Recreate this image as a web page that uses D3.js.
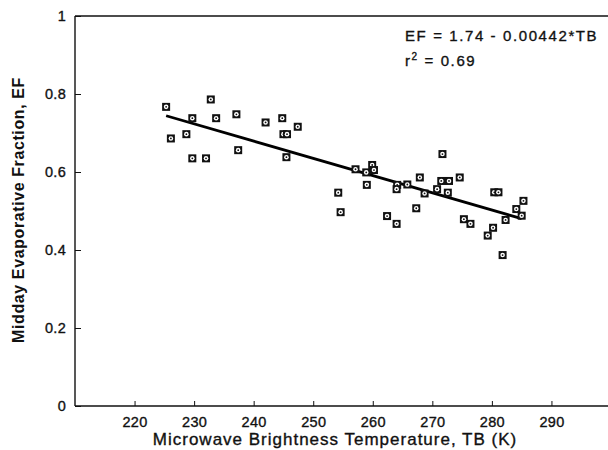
<!DOCTYPE html>
<html><head><meta charset="utf-8">
<script src="https://cdn.jsdelivr.net/npm/d3@7"></script>
<style>body{margin:0;background:#fff}svg{display:block}text{font-family:"Liberation Sans",Arial,Helvetica,sans-serif;fill:#111}</style>
</head><body>
<svg id="c" width="608" height="450"></svg>
<script>
const tbValues = [225.3,232.8,229.7,233.7,237.1,226.1,228.7,229.7,232.0,237.4,
  242.0,244.8,247.4,245.0,245.6,245.5,
  254.2,254.6,257.1,258.9,259.9,260.2,259.0,262.4,264.1,264.0,264.0,265.8,267.9,267.3,268.7,270.8,
  271.7,271.5,272.8,274.6,272.6,275.3,276.4,280.4,281.1,280.2,279.3,282.3,281.8,285.3,284.1,285.0];
const efValues = [0.767,0.786,0.738,0.738,0.748,0.686,0.697,0.635,0.635,0.656,
  0.727,0.738,0.716,0.697,0.697,0.638,
  0.547,0.497,0.607,0.599,0.618,0.605,0.567,0.487,0.567,0.556,0.467,0.568,0.586,0.507,0.545,0.556,
  0.646,0.577,0.577,0.586,0.547,0.479,0.467,0.548,0.548,0.457,0.437,0.477,0.387,0.526,0.505,0.488];
const xTicks = [220,230,240,250,260,270,280,290];
const yTicks = [0,0.2,0.4,0.6,0.8,1];
const fitIntercept = 1.74, fitSlope = -0.00442;
const fitRange = [225.3,285.0];

const svg = d3.select("#c");
const x = d3.scaleLinear().domain([210,300]).range([75,611]);
const y = d3.scaleLinear().domain([0,1]).range([406,16]);

const heavy = sel => sel.attr("stroke","#111").attr("stroke-width",0.35);

// frame
svg.append("line").attr("x1",75).attr("x2",608).attr("y1",y(1)).attr("y2",y(1)).attr("stroke","#111").attr("stroke-width",1.4);

const xa = svg.append("g").attr("transform",`translate(0,${y(0)})`)
  .call(d3.axisBottom(x).tickValues(xTicks).tickSize(-5).tickPadding(11).tickFormat(d3.format("d")));
xa.select(".domain").attr("d",`M75,0H608`).attr("stroke","#111").attr("stroke-width",1.4);
xa.selectAll("line").attr("stroke","#111");
xa.selectAll("text").attr("font-size",14.5).attr("letter-spacing",0.3).style("font-family","Liberation Sans, Arial, sans-serif").call(heavy);

const ya = svg.append("g").attr("transform",`translate(${x(210)},0)`)
  .call(d3.axisLeft(y).tickValues(yTicks).tickSize(-6).tickPadding(9).tickFormat(d=>d===0||d===1?String(d):d3.format(".1f")(d)));
ya.select(".domain").attr("d",`M0,${y(1)}V${y(0)}`).attr("stroke","#111").attr("stroke-width",1.4);
ya.selectAll("line").attr("stroke","#111");
ya.selectAll("text").attr("font-size",14.5).attr("letter-spacing",0.3).style("font-family","Liberation Sans, Arial, sans-serif").call(heavy);

// regression line
svg.append("line")
  .attr("x1",x(fitRange[0])).attr("y1",y(fitIntercept+fitSlope*fitRange[0]))
  .attr("x2",x(fitRange[1])).attr("y2",y(fitIntercept+fitSlope*fitRange[1]))
  .attr("stroke","#000").attr("stroke-width",2.8);

// points
const pts = svg.append("g").selectAll("g").data(tbValues.map((t,i)=>[t,efValues[i]])).join("g")
  .attr("transform",d=>`translate(${x(d[0])},${y(d[1])})`);
pts.append("rect").attr("x",-4).attr("y",-4).attr("width",8).attr("height",8).attr("fill","#111");
pts.append("circle").attr("r",2.3).attr("fill","#fff");
pts.append("circle").attr("r",0.9).attr("fill","#111");

// annotation
svg.append("text").attr("x",405).attr("y",41).attr("font-size",15).attr("letter-spacing",1.6).call(heavy)
  .text("EF = 1.74 - 0.00442*TB");
const t2 = svg.append("text").attr("x",405).attr("y",66).attr("font-size",15).attr("letter-spacing",1.6).call(heavy);
t2.append("tspan").text("r");
t2.append("tspan").attr("dy",-6).attr("font-size",10).text("2");
t2.append("tspan").attr("dy",6).text("  = 0.69");

// axis titles
svg.append("text").attr("x",335).attr("y",445).attr("text-anchor","middle").attr("font-size",17).attr("letter-spacing",1)
  .call(heavy).text("Microwave Brightness Temperature, TB (K)");
svg.append("text").attr("transform","translate(24,210) rotate(-90)").attr("text-anchor","middle")
  .attr("font-size",16).attr("letter-spacing",0.6).attr("font-weight","bold").text("Midday Evaporative Fraction, EF");
</script>
</body></html>
